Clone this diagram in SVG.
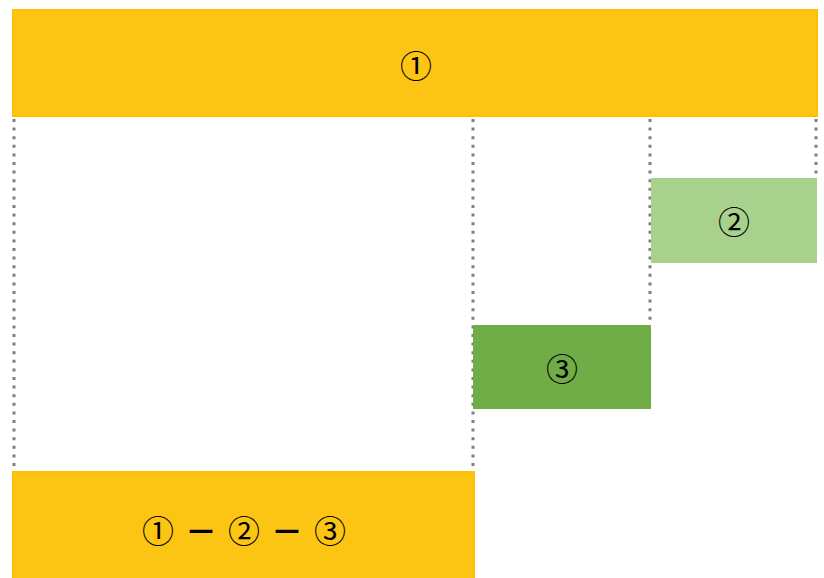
<svg xmlns="http://www.w3.org/2000/svg" width="824" height="578" viewBox="0 0 824 578">
  <style>
    .bar { fill: #FDC513; stroke: #FFC000; stroke-width: 2; }
    .light { fill: #A9D18E; }
    .dark { fill: #70AD47; }
    .guide { stroke: #7F7F7F; stroke-width: 3; stroke-dasharray: 3 5.6; fill: none; }
    .lbl { font-family: "Noto Sans CJK JP", "DejaVu Sans", sans-serif; font-size: 32px; fill: #000; text-anchor: middle; dominant-baseline: central; }
    .dash { font-weight: bold; }
  </style>
  <rect width="824" height="578" fill="#FFFFFF"/>

  <!-- dotted guide lines -->
  <g id="connectors">
    <line class="guide" x1="14" y1="119" x2="14" y2="471"/>
    <line class="guide" x1="473" y1="119" x2="473" y2="471"/>
    <line class="guide" x1="650" y1="119" x2="650" y2="325"/>
    <line class="guide" x1="816" y1="119" x2="816" y2="178"/>
  </g>

  <g id="node-1">
    <rect class="bar" x="13" y="10" width="804" height="106"/>
    <text class="lbl" x="416" y="64">①</text>
  </g>

  <g id="node-2">
    <rect class="light" x="651" y="178" width="166" height="85"/>
    <text class="lbl" x="734" y="220">②</text>
  </g>

  <g id="node-3">
    <rect class="dark" x="473" y="325" width="178" height="84"/>
    <text class="lbl" x="562" y="367">③</text>
  </g>

  <g id="node-result">
    <rect class="bar" x="13" y="472" width="461" height="110"/>
    <text class="lbl" y="529"><tspan x="158">①</tspan><tspan class="dash" x="201">－</tspan><tspan x="244">②</tspan><tspan class="dash" x="287">－</tspan><tspan x="330">③</tspan></text>
  </g>
</svg>
